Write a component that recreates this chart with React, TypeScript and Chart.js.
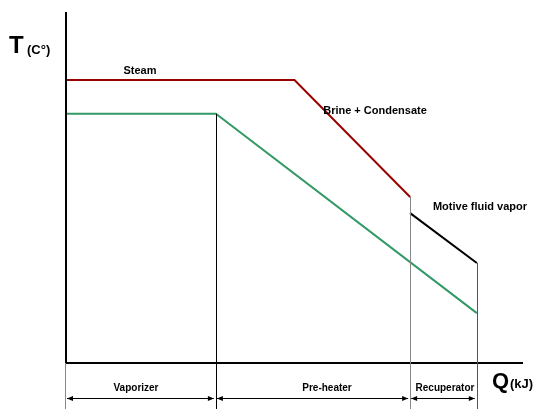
import React, { useEffect, useRef } from "react";
import { Chart, registerables } from "chart.js";

Chart.register(...registerables);

// Q (kJ, relative units) and T (°C, relative units)
const steamQ = [0, 50, 75.3];
const steamT = [80.6, 80.6, 47.3];
const fluidQ = [0, 32.8, 89.9];
const fluidT = [71, 71, 14.2];
const vaporQ = [75.3, 89.9];
const vaporT = [42.7, 28.5];
const sectionBounds = [0, 32.8, 75.3, 89.9];
const sectionLabels = ["Vaporizer", "Pre-heater", "Recuperator"];
const curveLabels = ["Steam", "Brine + Condensate", "Motive fluid vapor"];

const toPts = (xs: number[], ys: number[]) => xs.map((x, i) => ({ x, y: ys[i] }));

const FONT = "Liberation Sans, Arial, sans-serif";

const decorPlugin = {
  id: "decor",
  afterDatasetsDraw(chart: any) {
    const { ctx, scales, chartArea } = chart;
    const xs = scales.x;
    const ys = scales.y;
    const H = chart.height;
    const px = (v: number) => xs.getPixelForValue(v);
    const py = (v: number) => ys.getPixelForValue(v);
    ctx.save();
    // axes
    ctx.strokeStyle = "#000";
    ctx.lineWidth = 2;
    ctx.beginPath();
    ctx.moveTo(chartArea.left, chartArea.top);
    ctx.lineTo(chartArea.left, chartArea.bottom);
    ctx.lineTo(chartArea.right, chartArea.bottom);
    ctx.stroke();

    // vertical dividers
    const divTops = [null, fluidT[1], steamT[2], vaporT[1]];
    const divColors = ["#888", "#000", "#888", "#555"];
    sectionBounds.forEach((q, i) => {
      const x = Math.round(px(q)) + 0.5 - (i === 0 ? 1 : 0);
      const top = divTops[i] == null ? chartArea.bottom : py(divTops[i] as number);
      ctx.strokeStyle = divColors[i];
      ctx.lineWidth = 1;
      ctx.beginPath();
      ctx.moveTo(x, top);
      ctx.lineTo(x, H);
      ctx.stroke();
    });

    // arrows and section labels
    const arrowY = chartArea.bottom + 35;
    const labelY = chartArea.bottom + 25;
    const labelCenters = [136, 327, 445];
    ctx.fillStyle = "#000";
    ctx.strokeStyle = "#000";
    for (let i = 0; i < sectionLabels.length; i++) {
      const a = px(sectionBounds[i]) + 1;
      const b = px(sectionBounds[i + 1]) - 2;
      ctx.lineWidth = 1;
      ctx.beginPath();
      ctx.moveTo(a, arrowY + 0.5);
      ctx.lineTo(b, arrowY + 0.5);
      ctx.stroke();
      const head = (x: number, dir: number) => {
        ctx.beginPath();
        ctx.moveTo(x, arrowY + 0.5);
        ctx.lineTo(x + dir * 6, arrowY - 2);
        ctx.lineTo(x + dir * 6, arrowY + 3);
        ctx.closePath();
        ctx.fill();
      };
      head(a, 1);
      head(b, -1);
      ctx.font = `bold 10px ${FONT}`;
      ctx.textAlign = "center";
      ctx.textBaseline = "middle";
      ctx.fillText(sectionLabels[i], labelCenters[i], labelY);
    }

    // curve labels
    ctx.font = `bold 11px ${FONT}`;
    ctx.textAlign = "center";
    ctx.textBaseline = "middle";
    ctx.fillText(curveLabels[0], 140, 71);
    ctx.fillText(curveLabels[1], 375, 111);
    ctx.fillText(curveLabels[2], 480, 207);

    // axis titles
    ctx.textAlign = "left";
    ctx.textBaseline = "alphabetic";
    ctx.font = `bold 24px ${FONT}`;
    ctx.fillText("T", 9, 53);
    ctx.font = `bold 13px ${FONT}`;
    ctx.fillText("(C°)", 27, 54);
    ctx.font = `bold 22px ${FONT}`;
    ctx.fillText("Q", 492, 388);
    ctx.font = `bold 13px ${FONT}`;
    ctx.fillText("(kJ)", 510, 388);
    ctx.restore();
  },
};

export default function App() {
  const ref = useRef<HTMLCanvasElement | null>(null);
  useEffect(() => {
    if (!ref.current) return;
    const chart = new Chart(ref.current, {
      type: "line",
      data: {
        datasets: [
          {
            label: curveLabels[0],
            data: toPts(steamQ, steamT),
            borderColor: "#990000",
            borderWidth: 2,
            pointRadius: 0,
            tension: 0,
          },
          {
            label: "Motive fluid",
            data: toPts(fluidQ, fluidT),
            borderColor: "#339966",
            borderWidth: 2,
            pointRadius: 0,
            tension: 0,
          },
          {
            label: curveLabels[2],
            data: toPts(vaporQ, vaporT),
            borderColor: "#000000",
            borderWidth: 2,
            pointRadius: 0,
            tension: 0,
          },
        ],
      },
      options: {
        animation: false,
        responsive: false,
        devicePixelRatio: 1,
        layout: { padding: { left: 66, right: 15, top: 12, bottom: 46 } },
        plugins: { legend: { display: false }, tooltip: { enabled: false } },
        scales: {
          x: { type: "linear", min: 0, max: 100, display: false },
          y: { type: "linear", min: 0, max: 100, display: false },
        },
      },
      plugins: [decorPlugin],
    });
    return () => chart.destroy();
  }, []);
  return (
    <div style={{ position: "fixed", left: 0, top: 0, width: 538, height: 409, background: "#fff" }}>
      <canvas ref={ref} width={538} height={409} style={{ width: 538, height: 409 }} />
    </div>
  );
}
